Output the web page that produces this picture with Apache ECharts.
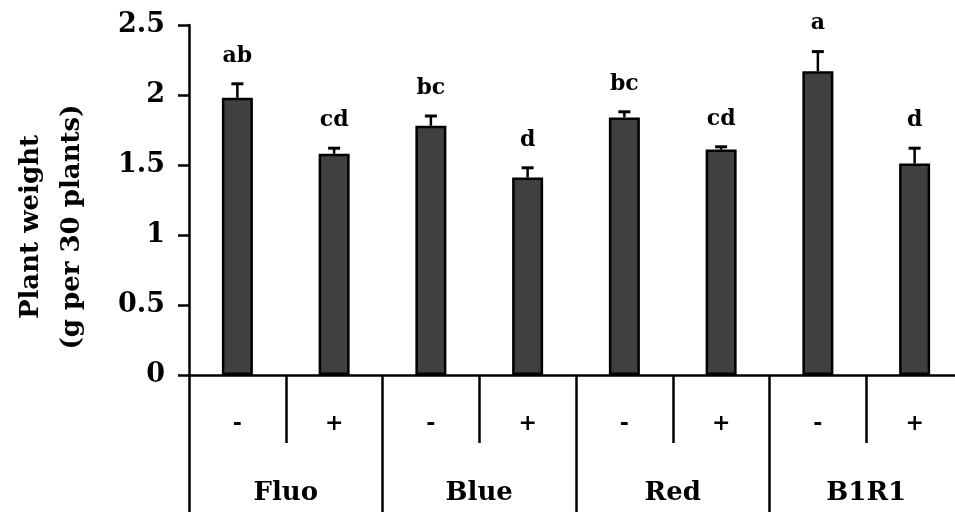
<!DOCTYPE html>
<html>
<head>
<meta charset="utf-8">
<script src="https://cdn.jsdelivr.net/npm/echarts@6/dist/echarts.min.js"></script>
<style>html,body{margin:0;padding:0;background:#fff;}#c{width:955px;height:512px;}</style>
</head>
<body>
<div id="c"></div>
<script>
const categories = ['-', '+', '-', '+', '-', '+', '-', '+'];
const groups = ['Fluo', 'Blue', 'Red', 'B1R1'];
const means = [1.98, 1.58, 1.78, 1.41, 1.84, 1.61, 2.17, 1.51];
const errors = [0.10, 0.04, 0.07, 0.07, 0.04, 0.02, 0.14, 0.11];
const letters = ['ab', 'cd', 'bc', 'd', 'bc', 'cd', 'a', 'd'];
const yMin = 0, yMax = 2.5, yInterval = 0.5;

const FONT = 'DejaVu Serif';
const chart = echarts.init(document.getElementById('c'), null, {renderer: 'canvas'});
const errData = means.map((m, i) => [i, m, errors[i]]);

chart.setOption({
  backgroundColor: '#fff',
  animation: false,
  grid: {left: 189, right: -8, top: 25, bottom: 137, containLabel: false, outerBoundsMode: 'none'},
  xAxis: [
    {
      type: 'category', data: categories, position: 'bottom',
      axisLine: {show: true, lineStyle: {color: '#000', width: 2.5}},
      axisTick: {show: true, interval: 0, length: 68, lineStyle: {color: '#000', width: 2.5}},
      axisLabel: {interval: 0, margin: 38, color: '#000', fontFamily: FONT, fontWeight: 'bold', fontSize: 22}
    },
    {
      type: 'category', data: groups, position: 'bottom',
      axisLine: {show: false},
      axisTick: {show: true, interval: 0, length: 140, lineStyle: {color: '#000', width: 2.5}},
      axisLabel: {interval: 0, margin: 105, color: '#000', fontFamily: FONT, fontWeight: 'bold', fontSize: 26}
    }
  ],
  yAxis: {
    type: 'value', min: yMin, max: yMax, interval: yInterval,
    name: 'Plant weight\n(g per 30 plants)', nameLocation: 'middle', nameGap: 96, nameRotate: 90,
    nameTextStyle: {color: '#000', fontFamily: FONT, fontWeight: 'bold', fontSize: 26, lineHeight: 41, padding: [0, 54, 0, 0]},
    axisLine: {show: true, lineStyle: {color: '#000', width: 2.5}},
    axisTick: {show: true, length: 11, lineStyle: {color: '#000', width: 2.5}},
    splitLine: {show: false},
    axisLabel: {margin: 24, color: '#000', fontFamily: FONT, fontWeight: 'bold', fontSize: 27}
  },
  series: [
    {
      type: 'bar', data: means, xAxisIndex: 0, barWidth: 31,
      itemStyle: {color: '#404040', borderColor: '#000', borderWidth: 2.5}
    },
    {
      type: 'custom', xAxisIndex: 0, data: errData, z: 5,
      renderItem: function (params, api) {
        const i = api.value(0), m = api.value(1), e = api.value(2);
        const base = api.coord([i, m]);
        const top = api.coord([i, m + e]);
        return {
          type: 'group',
          children: [
            {type: 'line', shape: {x1: base[0], y1: base[1], x2: top[0], y2: top[1]}, style: {stroke: '#000', lineWidth: 2.5}},
            {type: 'line', shape: {x1: top[0] - 6, y1: top[1], x2: top[0] + 6, y2: top[1]}, style: {stroke: '#000', lineWidth: 3}},
            {type: 'text', x: top[0], y: top[1] - 17, style: {text: letters[params.dataIndex], fill: '#000', font: 'bold 22px "DejaVu Serif"', textAlign: 'center', textVerticalAlign: 'bottom'}}
          ]
        };
      }
    }
  ]
});
</script>
</body>
</html>
